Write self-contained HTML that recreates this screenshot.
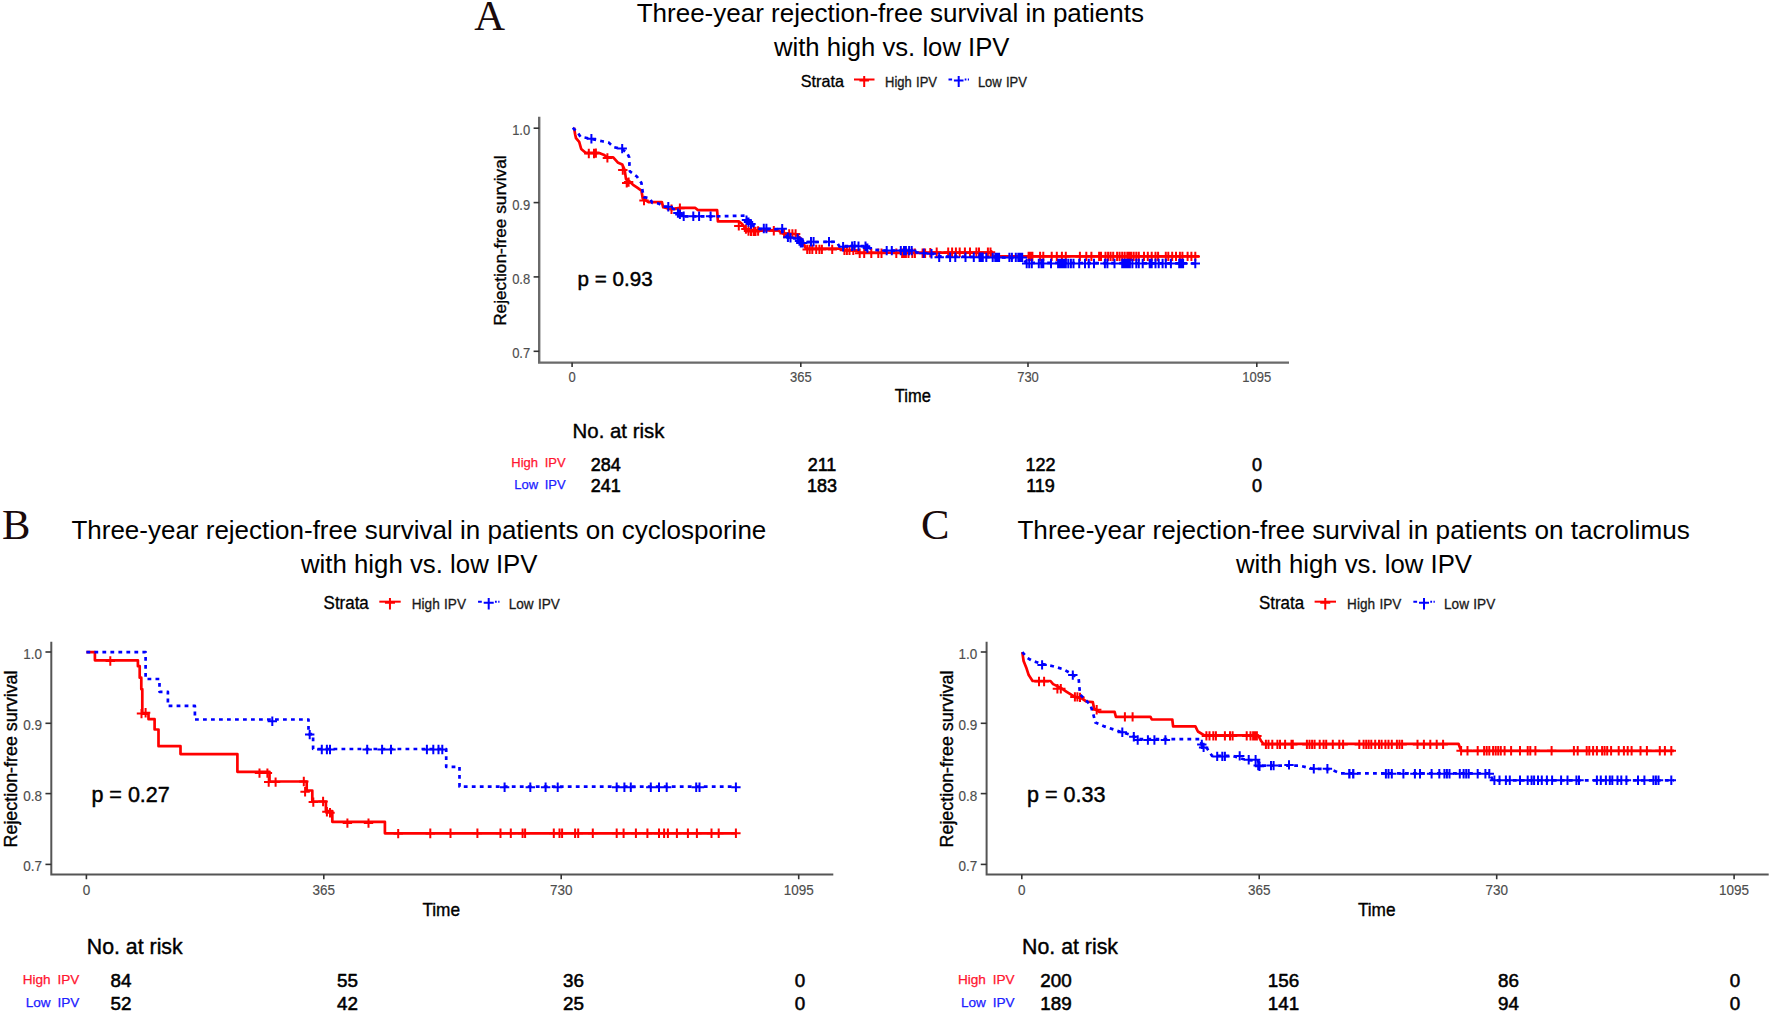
<!DOCTYPE html>
<html lang="en"><head><meta charset="utf-8"><title>Three-year rejection-free survival</title>
<style>html,body{margin:0;padding:0;background:#fff;}body{width:1772px;height:1014px;overflow:hidden;}svg{display:block;}</style>
</head><body>
<svg width="1772" height="1014" viewBox="0 0 1772 1014" role="img" aria-label="Kaplan-Meier rejection-free survival curves, panels A, B and C">
<rect width="1772" height="1014" fill="#ffffff"/>
<g>
<text x="636.7" y="21.8" font-family="'Liberation Sans', Arial, sans-serif" font-size="25.3" fill="#000" textLength="507.3" lengthAdjust="spacingAndGlyphs">Three-year rejection-free survival in patients</text>
<text x="773.9" y="55.8" font-family="'Liberation Sans', Arial, sans-serif" font-size="25.3" fill="#000" textLength="235.6" lengthAdjust="spacingAndGlyphs">with high vs. low IPV</text>
<text x="474.3" y="30" font-family="'Liberation Serif', 'Times New Roman', serif" font-size="42.6" fill="#1a0a0a" text-anchor="start" >A</text>
<text transform="translate(800.7 86.9) scale(1 1.07)" font-family="'Liberation Sans', Arial, sans-serif" font-size="16.2" fill="#000" text-anchor="start" stroke="#000" stroke-width="0.3" stroke-linejoin="round" >Strata</text>
<path d="M854 79.5H874.5" stroke="#ff0000" stroke-width="2"/>
<path d="M864.2 75.9V86.9M859.4 80.5H869" stroke="#ff0000" stroke-width="2" fill="none"/>
<text transform="translate(885.1 86.5) scale(1 1.07)" font-family="'Liberation Sans', Arial, sans-serif" font-size="13" fill="#1a1a1a" text-anchor="start" stroke="#1a1a1a" stroke-width="0.3" stroke-linejoin="round" word-spacing="0.6">High IPV</text>
<path d="M948.5 79.5H952.1M964.7 79.5H966.4M967.8 79.5H969" stroke="#0000ff" stroke-width="2"/>
<path d="M958.7 75.9V86.9M953.9 80.5H963.5" stroke="#0000ff" stroke-width="2" fill="none"/>
<text transform="translate(977.9 86.5) scale(1 1.07)" font-family="'Liberation Sans', Arial, sans-serif" font-size="13" fill="#1a1a1a" text-anchor="start" stroke="#1a1a1a" stroke-width="0.3" stroke-linejoin="round" word-spacing="0.6">Low IPV</text>
<path d="M539.2 116.7V362.6H1289" stroke="#6a6a6a" stroke-width="2.4" fill="none"/>
<path d="M533.6 128.2H539.2" stroke="#333" stroke-width="1.6"/>
<text transform="translate(530.2 135.1) scale(1 1.14)" font-family="'Liberation Sans', Arial, sans-serif" font-size="13" fill="#4d4d4d" text-anchor="end" stroke="#4d4d4d" stroke-width="0.15" stroke-linejoin="round" >1.0</text>
<path d="M533.6 202.6H539.2" stroke="#333" stroke-width="1.6"/>
<text transform="translate(530.2 209.5) scale(1 1.14)" font-family="'Liberation Sans', Arial, sans-serif" font-size="13" fill="#4d4d4d" text-anchor="end" stroke="#4d4d4d" stroke-width="0.15" stroke-linejoin="round" >0.9</text>
<path d="M533.6 276.9H539.2" stroke="#333" stroke-width="1.6"/>
<text transform="translate(530.2 283.8) scale(1 1.14)" font-family="'Liberation Sans', Arial, sans-serif" font-size="13" fill="#4d4d4d" text-anchor="end" stroke="#4d4d4d" stroke-width="0.15" stroke-linejoin="round" >0.8</text>
<path d="M533.6 351.3H539.2" stroke="#333" stroke-width="1.6"/>
<text transform="translate(530.2 358.2) scale(1 1.14)" font-family="'Liberation Sans', Arial, sans-serif" font-size="13" fill="#4d4d4d" text-anchor="end" stroke="#4d4d4d" stroke-width="0.15" stroke-linejoin="round" >0.7</text>
<path d="M572.1 362.6V367" stroke="#333" stroke-width="1.6"/>
<text transform="translate(572.1 382) scale(1 1.14)" font-family="'Liberation Sans', Arial, sans-serif" font-size="13" fill="#4d4d4d" text-anchor="middle" stroke="#4d4d4d" stroke-width="0.15" stroke-linejoin="round" >0</text>
<path d="M800.8 362.6V367" stroke="#333" stroke-width="1.6"/>
<text transform="translate(800.8 382) scale(1 1.14)" font-family="'Liberation Sans', Arial, sans-serif" font-size="13" fill="#4d4d4d" text-anchor="middle" stroke="#4d4d4d" stroke-width="0.15" stroke-linejoin="round" >365</text>
<path d="M1028 362.6V367" stroke="#333" stroke-width="1.6"/>
<text transform="translate(1028 382) scale(1 1.14)" font-family="'Liberation Sans', Arial, sans-serif" font-size="13" fill="#4d4d4d" text-anchor="middle" stroke="#4d4d4d" stroke-width="0.15" stroke-linejoin="round" >730</text>
<path d="M1256.8 362.6V367" stroke="#333" stroke-width="1.6"/>
<text transform="translate(1256.8 382) scale(1 1.14)" font-family="'Liberation Sans', Arial, sans-serif" font-size="13" fill="#4d4d4d" text-anchor="middle" stroke="#4d4d4d" stroke-width="0.15" stroke-linejoin="round" >1095</text>
<text transform="translate(912.8 401.6) scale(1 1.07)" font-family="'Liberation Sans', Arial, sans-serif" font-size="16.5" fill="#000" text-anchor="middle" stroke="#000" stroke-width="0.35" stroke-linejoin="round" >Time</text>
<text transform="translate(506.2 240.6) rotate(-90)" font-family="'Liberation Sans', Arial, sans-serif" font-size="17" fill="#000" stroke="#000" stroke-width="0.35" text-anchor="middle" textLength="170.5" lengthAdjust="spacingAndGlyphs">Rejection-free survival</text>
<text x="577.6" y="286" font-family="'Liberation Sans', Arial, sans-serif" font-size="20.6" fill="#000" text-anchor="start" stroke="#000" stroke-width="0.45" stroke-linejoin="round" >p = 0.93</text>
<path d="M574.1 127.8 L575.1 134.2 L576 138.1 L579.2 141.9 L581.2 149 L585.6 152.8 L598.5 152.8 L603.6 154.7 L607.4 157.3 L613.2 157.3 L617.7 162.4 L622.2 164.4 L624.7 170.1 L626 179.1 L629.9 181.7 L633.1 184.9 L636.9 187.4 L641.4 190.6 L642.7 198.3 L648.5 202.2 L661.9 202.2 L663.2 207.3 L671.5 209.2 L679.9 207.9 L695.3 207.9 L697.8 210.1 L717.1 210.1 L717.9 221.4 L738.8 221.4 L742.1 224 L745.9 229.1 L749.7 230.4 L770.3 230.4 L777.7 230.1 L782.8 233.3 L795.6 234 L802.1 239.7 L805.9 248.7 L839.2 248.7 L844.4 250.3 L857.2 250.6 L859.7 252.6 L992.1 252.6 L991.4 251.3 L992.7 256.4 L1199.1 256.4" stroke="#ff0000" stroke-width="2.7" fill="none" stroke-linejoin="round"/>
<path d="M584.1 153.5H593.5M588.8 148.8V158.2M589.3 153.5H598.7M594 148.8V158.2M591.2 153.1H600.6M595.9 148.4V157.8M602.7 157.9H612.1M607.4 153.2V162.6M618.1 170.1H627.5M622.8 165.4V174.8M622 182.9H631.4M626.7 178.2V187.6M623.9 182.1H633.3M628.6 177.4V186.8M639.3 200.6H648.7M644 195.9V205.3M666.8 209.2H676.2M671.5 204.5V213.9M675.2 208.3H684.6M679.9 203.6V213M734.1 225.9H743.5M738.8 221.2V230.6M741.2 229.1H750.6M745.9 224.4V233.8M743.8 231H753.2M748.5 226.3V235.7M746.3 231.4H755.7M751 226.7V236.1M748.9 231.4H758.3M753.6 226.7V236.1M750.8 231.4H760.2M755.5 226.7V236.1M753.4 231H762.8M758.1 226.3V235.7M769.1 230.8H778.5M773.8 226.1V235.5M779.4 233.6H788.8M784.1 228.9V238.3M784.5 234H793.9M789.2 229.3V238.7M787.7 234H797.1M792.4 229.3V238.7M790.9 234H800.3M795.6 229.3V238.7M802.5 249.4H811.9M807.2 244.7V254.1M805 249.4H814.4M809.7 244.7V254.1M807.6 249.4H817M812.3 244.7V254.1M811.5 249.4H820.9M816.2 244.7V254.1M814.7 249.4H824.1M819.4 244.7V254.1M817.2 249.4H826.6M821.9 244.7V254.1M827.5 249.4H836.9M832.2 244.7V254.1M839.7 250.3H849.1M844.4 245.6V255M842.2 250.3H851.6M846.9 245.6V255M844.8 250.3H854.2M849.5 245.6V255M848.6 250.3H858M853.3 245.6V255M855 253.2H864.4M859.7 248.5V257.9M859.5 253.2H868.9M864.2 248.5V257.9M866.6 253.2H876M871.3 248.5V257.9M873.6 253.2H883M878.3 248.5V257.9M876.8 253.2H886.2M881.5 248.5V257.9M891.6 253.2H901M896.3 248.5V257.9M897.4 253.2H906.8M902.1 248.5V257.9M899.3 253.2H908.7M904 248.5V257.9M901.2 253.2H910.6M905.9 248.5V257.9M903.8 253.2H913.2M908.5 248.5V257.9M907.6 253.2H917M912.3 248.5V257.9M910.2 253.2H919.6M914.9 248.5V257.9M917.9 253.2H927.3M922.6 248.5V257.9M920.4 253.2H929.8M925.1 248.5V257.9M925.6 252.8H935M930.3 248.1V257.5M932 252.3H941.4M936.7 247.6V257M943.5 252.3H952.9M948.2 247.6V257M947.4 252.3H956.8M952.1 247.6V257M951.2 252.3H960.6M955.9 247.6V257M955 252.3H964.4M959.7 247.6V257M960.2 252.3H969.6M964.9 247.6V257M965.3 252.3H974.7M970 247.6V257M971.7 252.3H981.1M976.4 247.6V257M974.3 252.3H983.7M979 247.6V257M983.2 252.3H992.6M987.9 247.6V257M985.8 252.3H995.2M990.5 247.6V257M1023.9 256.4H1033.3M1028.6 251.7V261.1M1025.8 256.4H1035.2M1030.5 251.7V261.1M1027.7 256.4H1037.1M1032.4 251.7V261.1M1035.4 256.4H1044.8M1040.1 251.7V261.1M1038.6 256.4H1048M1043.3 251.7V261.1M1047 256.4H1056.4M1051.7 251.7V261.1M1052.1 256.4H1061.5M1056.8 251.7V261.1M1057.2 256.4H1066.6M1061.9 251.7V261.1M1061.1 256.4H1070.5M1065.8 251.7V261.1M1075.2 256.4H1084.6M1079.9 251.7V261.1M1081.6 256.4H1091M1086.3 251.7V261.1M1086.7 256.4H1096.1M1091.4 251.7V261.1M1094.4 256.4H1103.8M1099.1 251.7V261.1M1096.3 256.4H1105.7M1101 251.7V261.1M1100.8 256.4H1110.2M1105.5 251.7V261.1M1103.4 256.4H1112.8M1108.1 251.7V261.1M1105.9 256.4H1115.3M1110.6 251.7V261.1M1108.5 256.4H1117.9M1113.2 251.7V261.1M1112.4 256.4H1121.8M1117.1 251.7V261.1M1114.9 256.4H1124.3M1119.6 251.7V261.1M1117.5 256.4H1126.9M1122.2 251.7V261.1M1120 256.4H1129.4M1124.7 251.7V261.1M1122.6 256.4H1132M1127.3 251.7V261.1M1124.5 256.4H1133.9M1129.2 251.7V261.1M1126.5 256.4H1135.9M1131.2 251.7V261.1M1129 256.4H1138.4M1133.7 251.7V261.1M1131.6 256.4H1141M1136.3 251.7V261.1M1134.1 256.4H1143.5M1138.8 251.7V261.1M1139.3 256.4H1148.7M1144 251.7V261.1M1143.1 256.4H1152.5M1147.8 251.7V261.1M1147 256.4H1156.4M1151.7 251.7V261.1M1150.8 256.4H1160.2M1155.5 251.7V261.1M1153.4 256.4H1162.8M1158.1 251.7V261.1M1161.1 256.4H1170.5M1165.8 251.7V261.1M1163.6 256.4H1173M1168.3 251.7V261.1M1167.5 256.4H1176.9M1172.2 251.7V261.1M1171.3 256.4H1180.7M1176 251.7V261.1M1175.2 256.4H1184.6M1179.9 251.7V261.1M1177.7 256.4H1187.1M1182.4 251.7V261.1M1182.9 256.4H1192.3M1187.6 251.7V261.1M1186.7 256.4H1196.1M1191.4 251.7V261.1M1190.6 256.4H1200M1195.3 251.7V261.1" stroke="#ff0000" stroke-width="2" fill="none"/>
<path d="M572.8 127.8 L577.9 132.9 L580.5 136.8 L590.8 138.7 L602.3 141.3 L608.7 142.6 L613.8 147.1 L621.5 149 L626.7 152.2 L629.2 157.3 L629.5 166.3 L629.9 171.4 L636.9 176.5 L641.4 182.9 L642.7 191.9 L644 197.1 L649.7 198.3 L652.3 202.8 L658.7 203.5 L662.6 206.7 L669 206.7 L675.4 209.9 L679.2 213.7 L683.1 216.3 L717.7 216.3 L745.9 215.6 L747.2 220.1 L751 224 L754.9 227.2 L760 229.1 L770.3 229.1 L782.1 229.1 L782.8 234.6 L789.2 237.2 L795.6 238.5 L799.5 242.3 L836.7 241.7 L839.2 246.2 L867.4 246.2 L871.3 249.4 L882.8 250.6 L911 250.6 L917.4 252.6 L934.1 253.8 L936.7 256.4 L992.1 257.1 L1023.5 258.3 L1026 262.8 L1199.1 263.5" stroke="#0000ff" stroke-width="2.7" fill="none" stroke-dasharray="3.8 4.2" stroke-linejoin="round"/>
<path d="M586.7 138.7H596.1M591.4 134V143.4M617.5 148.6H626.9M622.2 143.9V153.3M663.6 206.7H673M668.3 202V211.4M673.2 213.1H682.6M677.9 208.4V217.8M675.2 214.4H684.6M679.9 209.7V219.1M679 216.3H688.4M683.7 211.6V221M688.6 216.3H698M693.3 211.6V221M694.4 216.3H703.8M699.1 211.6V221M705.9 216.3H715.3M710.6 211.6V221M741.8 220.1H751.2M746.5 215.4V224.8M743.8 222.1H753.2M748.5 217.4V226.8M746.3 224H755.7M751 219.3V228.7M759.1 228.5H768.5M763.8 223.8V233.2M761.7 228.5H771.1M766.4 223.8V233.2M777.5 228.8H786.9M782.2 224.1V233.5M783.2 237.2H792.6M787.9 232.5V241.9M785.8 237.8H795.2M790.5 233.1V242.5M792.9 238.5H802.3M797.6 233.8V243.2M794.8 241H804.2M799.5 236.3V245.7M796.1 242.9H805.5M800.8 238.2V247.6M798 242.9H807.4M802.7 238.2V247.6M806.3 241.7H815.7M811 237V246.4M808.9 241.7H818.3M813.6 237V246.4M824.3 241.7H833.7M829 237V246.4M838.4 246.8H847.8M843.1 242.1V251.5M847.4 246.2H856.8M852.1 241.5V250.9M849.9 245.8H859.3M854.6 241.1V250.5M853.8 246.2H863.2M858.5 241.5V250.9M860.8 246.2H870.2M865.5 241.5V250.9M862.7 248.1H872.1M867.4 243.4V252.8M882 250.6H891.4M886.7 245.9V255.3M887.1 250.6H896.5M891.8 245.9V255.3M896.1 250.6H905.5M900.8 245.9V255.3M899.3 250.6H908.7M904 245.9V255.3M901.2 250.6H910.6M905.9 245.9V255.3M904.4 250.6H913.8M909.1 245.9V255.3M907 250.6H916.4M911.7 245.9V255.3M919.1 253.2H928.5M923.8 248.5V257.9M926.8 253.8H936.2M931.5 249.1V258.5M934.5 257.3H943.9M939.2 252.6V262M945.4 257.3H954.8M950.1 252.6V262M950.6 257.3H960M955.3 252.6V262M960.8 257.3H970.2M965.5 252.6V262M969.1 257.3H978.5M973.8 252.6V262M974.9 257.3H984.3M979.6 252.6V262M976.8 257.3H986.2M981.5 252.6V262M978.1 257.3H987.5M982.8 252.6V262M981.6 257.4H991M986.3 252.7V262.1M988 257.4H997.4M992.7 252.7V262.1M990.6 257.4H1000M995.3 252.7V262.1M992.5 257.4H1001.9M997.2 252.7V262.1M994.4 257.4H1003.8M999.1 252.7V262.1M1004.7 257.4H1014.1M1009.4 252.7V262.1M1007.2 257.4H1016.6M1011.9 252.7V262.1M1011.1 257.4H1020.5M1015.8 252.7V262.1M1013.6 257.4H1023M1018.3 252.7V262.1M1015.6 257.4H1025M1020.3 252.7V262.1M1017.5 257.4H1026.9M1022.2 252.7V262.1M1022 263.5H1031.4M1026.7 258.8V268.2M1024.5 263.5H1033.9M1029.2 258.8V268.2M1027.1 263.5H1036.5M1031.8 258.8V268.2M1034.1 263.5H1043.5M1038.8 258.8V268.2M1036.7 263.5H1046.1M1041.4 258.8V268.2M1038.6 263.5H1048M1043.3 258.8V268.2M1046.3 263.5H1055.7M1051 258.8V268.2M1053.4 263.5H1062.8M1058.1 258.8V268.2M1055.3 263.5H1064.7M1060 258.8V268.2M1057.2 263.5H1066.6M1061.9 258.8V268.2M1059.1 263.5H1068.5M1063.8 258.8V268.2M1061.1 263.5H1070.5M1065.8 258.8V268.2M1063.6 263.5H1073M1068.3 258.8V268.2M1066.2 263.5H1075.6M1070.9 258.8V268.2M1068.8 263.5H1078.2M1073.5 258.8V268.2M1074.5 263.5H1083.9M1079.2 258.8V268.2M1080.3 263.5H1089.7M1085 258.8V268.2M1084.1 263.5H1093.5M1088.8 258.8V268.2M1089.3 263.5H1098.7M1094 258.8V268.2M1100.2 263.5H1109.6M1104.9 258.8V268.2M1102.7 263.5H1112.1M1107.4 258.8V268.2M1109.8 263.5H1119.2M1114.5 258.8V268.2M1117.5 263.5H1126.9M1122.2 258.8V268.2M1119.4 263.5H1128.8M1124.1 258.8V268.2M1121.3 263.5H1130.7M1126 258.8V268.2M1123.2 263.5H1132.6M1127.9 258.8V268.2M1125.2 263.5H1134.6M1129.9 258.8V268.2M1127.7 263.5H1137.1M1132.4 258.8V268.2M1131.6 263.5H1141M1136.3 258.8V268.2M1134.1 263.5H1143.5M1138.8 258.8V268.2M1138 263.5H1147.4M1142.7 258.8V268.2M1145 263.5H1154.4M1149.7 258.8V268.2M1147 263.5H1156.4M1151.7 258.8V268.2M1150.8 263.5H1160.2M1155.5 258.8V268.2M1154 263.5H1163.4M1158.7 258.8V268.2M1157.9 263.5H1167.3M1162.6 258.8V268.2M1161.1 263.5H1170.5M1165.8 258.8V268.2M1166.2 263.5H1175.6M1170.9 258.8V268.2M1174.5 263.5H1183.9M1179.2 258.8V268.2M1176.5 263.5H1185.9M1181.2 258.8V268.2M1178.4 263.5H1187.8M1183.1 258.8V268.2M1190.6 263.5H1200M1195.3 258.8V268.2" stroke="#0000ff" stroke-width="2" fill="none"/>
<text x="572.6" y="438" font-family="'Liberation Sans', Arial, sans-serif" font-size="20.4" fill="#000" text-anchor="start" stroke="#000" stroke-width="0.4" stroke-linejoin="round" >No. at risk</text>
<text x="565.6" y="467.1" font-family="'Liberation Sans', Arial, sans-serif" font-size="13" fill="#ff1530" text-anchor="end" stroke="#ff1530" stroke-width="0.25" stroke-linejoin="round" word-spacing="3">High IPV</text>
<text x="565.6" y="489.2" font-family="'Liberation Sans', Arial, sans-serif" font-size="13" fill="#2020ff" text-anchor="end" stroke="#2020ff" stroke-width="0.25" stroke-linejoin="round" word-spacing="3">Low IPV</text>
<text x="605.8" y="470.6" font-family="'Liberation Sans', Arial, sans-serif" font-size="18" fill="#000" text-anchor="middle" stroke="#000" stroke-width="0.55" stroke-linejoin="round" >284</text>
<text x="822" y="470.6" font-family="'Liberation Sans', Arial, sans-serif" font-size="18" fill="#000" text-anchor="middle" stroke="#000" stroke-width="0.55" stroke-linejoin="round" >211</text>
<text x="1040.5" y="470.6" font-family="'Liberation Sans', Arial, sans-serif" font-size="18" fill="#000" text-anchor="middle" stroke="#000" stroke-width="0.55" stroke-linejoin="round" >122</text>
<text x="1257" y="470.6" font-family="'Liberation Sans', Arial, sans-serif" font-size="18" fill="#000" text-anchor="middle" stroke="#000" stroke-width="0.55" stroke-linejoin="round" >0</text>
<text x="605.8" y="492" font-family="'Liberation Sans', Arial, sans-serif" font-size="18" fill="#000" text-anchor="middle" stroke="#000" stroke-width="0.55" stroke-linejoin="round" >241</text>
<text x="822" y="492" font-family="'Liberation Sans', Arial, sans-serif" font-size="18" fill="#000" text-anchor="middle" stroke="#000" stroke-width="0.55" stroke-linejoin="round" >183</text>
<text x="1040.5" y="492" font-family="'Liberation Sans', Arial, sans-serif" font-size="18" fill="#000" text-anchor="middle" stroke="#000" stroke-width="0.55" stroke-linejoin="round" >119</text>
<text x="1257" y="492" font-family="'Liberation Sans', Arial, sans-serif" font-size="18" fill="#000" text-anchor="middle" stroke="#000" stroke-width="0.55" stroke-linejoin="round" >0</text>
</g>
<g>
<text x="71.4" y="539" font-family="'Liberation Sans', Arial, sans-serif" font-size="25.3" fill="#000" textLength="694.9" lengthAdjust="spacingAndGlyphs">Three-year rejection-free survival in patients on cyclosporine</text>
<text x="301" y="572.5" font-family="'Liberation Sans', Arial, sans-serif" font-size="25.3" fill="#000" textLength="236.5" lengthAdjust="spacingAndGlyphs">with high vs. low IPV</text>
<text x="2" y="539" font-family="'Liberation Serif', 'Times New Roman', serif" font-size="42.6" fill="#1a0a0a" text-anchor="start" >B</text>
<text transform="translate(323.6 609.4) scale(1 1.04)" font-family="'Liberation Sans', Arial, sans-serif" font-size="16.929" fill="#000" text-anchor="start" stroke="#000" stroke-width="0.3" stroke-linejoin="round" >Strata</text>
<path d="M379.298 601.667H400.721" stroke="#ff0000" stroke-width="2"/>
<path d="M389.957 597.905V609.4M384.941 602.667H394.974" stroke="#ff0000" stroke-width="2" fill="none"/>
<text transform="translate(411.798 609) scale(1 1.04)" font-family="'Liberation Sans', Arial, sans-serif" font-size="13.585" fill="#1a1a1a" text-anchor="start" stroke="#1a1a1a" stroke-width="0.3" stroke-linejoin="round" word-spacing="0.6">High IPV</text>
<path d="M478.051 601.667H481.813M494.98 601.667H496.757M498.22 601.667H499.474" stroke="#0000ff" stroke-width="2"/>
<path d="M488.71 597.905V609.4M483.694 602.667H493.726" stroke="#0000ff" stroke-width="2" fill="none"/>
<text transform="translate(508.774 609) scale(1 1.04)" font-family="'Liberation Sans', Arial, sans-serif" font-size="13.585" fill="#1a1a1a" text-anchor="start" stroke="#1a1a1a" stroke-width="0.3" stroke-linejoin="round" word-spacing="0.6">Low IPV</text>
<path d="M51.3 641.8V874.6H833.3" stroke="#555555" stroke-width="2" fill="none"/>
<path d="M45.448 652H51.3" stroke="#333" stroke-width="1.6"/>
<text transform="translate(41.895 658.9) scale(1 1.14)" font-family="'Liberation Sans', Arial, sans-serif" font-size="13.5" fill="#4d4d4d" text-anchor="end" stroke="#4d4d4d" stroke-width="0.15" stroke-linejoin="round" >1.0</text>
<path d="M45.448 723.3H51.3" stroke="#333" stroke-width="1.6"/>
<text transform="translate(41.895 730.2) scale(1 1.14)" font-family="'Liberation Sans', Arial, sans-serif" font-size="13.5" fill="#4d4d4d" text-anchor="end" stroke="#4d4d4d" stroke-width="0.15" stroke-linejoin="round" >0.9</text>
<path d="M45.448 793.6H51.3" stroke="#333" stroke-width="1.6"/>
<text transform="translate(41.895 800.5) scale(1 1.14)" font-family="'Liberation Sans', Arial, sans-serif" font-size="13.5" fill="#4d4d4d" text-anchor="end" stroke="#4d4d4d" stroke-width="0.15" stroke-linejoin="round" >0.8</text>
<path d="M45.448 864.4H51.3" stroke="#333" stroke-width="1.6"/>
<text transform="translate(41.895 871.3) scale(1 1.14)" font-family="'Liberation Sans', Arial, sans-serif" font-size="13.5" fill="#4d4d4d" text-anchor="end" stroke="#4d4d4d" stroke-width="0.15" stroke-linejoin="round" >0.7</text>
<path d="M86.4 874.6V879.252" stroke="#333" stroke-width="1.6"/>
<text transform="translate(86.4 894.6) scale(1 1.14)" font-family="'Liberation Sans', Arial, sans-serif" font-size="13.5" fill="#4d4d4d" text-anchor="middle" stroke="#4d4d4d" stroke-width="0.15" stroke-linejoin="round" >0</text>
<path d="M323.8 874.6V879.252" stroke="#333" stroke-width="1.6"/>
<text transform="translate(323.8 894.6) scale(1 1.14)" font-family="'Liberation Sans', Arial, sans-serif" font-size="13.5" fill="#4d4d4d" text-anchor="middle" stroke="#4d4d4d" stroke-width="0.15" stroke-linejoin="round" >365</text>
<path d="M561.2 874.6V879.252" stroke="#333" stroke-width="1.6"/>
<text transform="translate(561.2 894.6) scale(1 1.14)" font-family="'Liberation Sans', Arial, sans-serif" font-size="13.5" fill="#4d4d4d" text-anchor="middle" stroke="#4d4d4d" stroke-width="0.15" stroke-linejoin="round" >730</text>
<path d="M798.7 874.6V879.252" stroke="#333" stroke-width="1.6"/>
<text transform="translate(798.7 894.6) scale(1 1.14)" font-family="'Liberation Sans', Arial, sans-serif" font-size="13.5" fill="#4d4d4d" text-anchor="middle" stroke="#4d4d4d" stroke-width="0.15" stroke-linejoin="round" >1095</text>
<text transform="translate(441.2 916) scale(1 1.04)" font-family="'Liberation Sans', Arial, sans-serif" font-size="17.2425" fill="#000" text-anchor="middle" stroke="#000" stroke-width="0.35" stroke-linejoin="round" >Time</text>
<text transform="translate(16.7 759) rotate(-90)" font-family="'Liberation Sans', Arial, sans-serif" font-size="17.5" fill="#000" stroke="#000" stroke-width="0.35" text-anchor="middle" textLength="177" lengthAdjust="spacingAndGlyphs">Rejection-free survival</text>
<text x="91.4" y="802" font-family="'Liberation Sans', Arial, sans-serif" font-size="21.527" fill="#000" text-anchor="start" stroke="#000" stroke-width="0.45" stroke-linejoin="round" >p = 0.27</text>
<path d="M86.4 652.1 L94.9 652.1 L94.9 660.3 L137.9 660.3 L137.9 666.2 L139.7 666.2 L139.7 677.7 L141.3 677.7 L141.3 689.2 L142.3 689.2 L142.3 713.6 L148.5 713.6 L148.5 719.2 L154.6 719.2 L154.6 729.5 L158.5 729.5 L158.5 746.2 L180.5 746.2 L180.5 754.1 L237.4 754.1 L237.4 771.8 L269.5 771.8 L269.5 781.5 L306.7 781.5 L306.7 790.5 L312.3 790.5 L312.3 801.5 L325.9 801.5 L325.9 811 L332.3 811 L332.3 821.8 L384.9 821.8 L384.9 833.3 L443.1 833.3 L735.9 833.3" stroke="#ff0000" stroke-width="2.7" fill="none" stroke-linejoin="round"/>
<path d="M105.6 661H115M110.3 656.3V665.7M136.8 713.6H146.2M141.5 708.9V718.3M140.9 712.8H150.3M145.6 708.1V717.5M254.8 773.1H264.2M259.5 768.4V777.8M262.7 773.1H272.1M267.4 768.4V777.8M264 782.1H273.4M268.7 777.4V786.8M270.9 782.1H280.3M275.6 777.4V786.8M299.1 781.5H308.5M303.8 776.8V786.2M300.4 791.8H309.8M305.1 787.1V796.5M308.6 802.1H318M313.3 797.4V806.8M318.4 801.5H327.8M323.1 796.8V806.2M322.2 811.8H331.6M326.9 807.1V816.5M325.3 812.8H334.7M330 808.1V817.5M342.7 823.1H352.1M347.4 818.4V827.8M363.8 823.1H373.2M368.5 818.4V827.8M393.5 833.6H402.9M398.2 828.9V838.3M425.6 833.6H435M430.3 828.9V838.3M425.6 833.3H435M430.3 828.6V838M445.8 833.3H455.2M450.5 828.6V838M472.7 833.3H482.1M477.4 828.6V838M495.8 833.3H505.2M500.5 828.6V838M506.1 833.3H515.5M510.8 828.6V838M517.9 833.3H527.3M522.6 828.6V838M520.4 833.3H529.8M525.1 828.6V838M549.1 833.3H558.5M553.8 828.6V838M554.8 833.3H564.2M559.5 828.6V838M557.4 833.3H566.8M562.1 828.6V838M570.4 833.3H579.8M575.1 828.6V838M573.5 833.3H582.9M578.2 828.6V838M588.1 833.3H597.5M592.8 828.6V838M612 833.3H621.4M616.7 828.6V838M618.9 833.3H628.3M623.6 828.6V838M631.2 833.3H640.6M635.9 828.6V838M642.7 833.3H652.1M647.4 828.6V838M654.3 833.3H663.7M659 828.6V838M659.4 833.3H668.8M664.1 828.6V838M663.2 833.3H672.6M667.9 828.6V838M672.2 833.3H681.6M676.9 828.6V838M683.2 833.3H692.6M687.9 828.6V838M692.2 833.3H701.6M696.9 828.6V838M706.8 833.3H716.2M711.5 828.6V838M714 833.3H723.4M718.7 828.6V838M731.2 833.3H740.6M735.9 828.6V838" stroke="#ff0000" stroke-width="2" fill="none"/>
<path d="M86.4 652.1 L145.6 652.1 L145.6 679 L159.5 679 L159.5 691.8 L167.9 691.8 L167.9 705.9 L194.9 705.9 L194.9 719.5 L308.5 719.5 L308.5 734.1 L313.1 734.1 L313.1 749 L443.1 749 L446.2 749 L446.2 766.9 L459.5 766.9 L459.5 786.7 L735.9 786.7" stroke="#0000ff" stroke-width="2.7" fill="none" stroke-dasharray="3.8 4.2" stroke-linejoin="round"/>
<path d="M267.6 721.3H277M272.3 716.6V726M305 734.6H314.4M309.7 729.9V739.3M317.1 749.5H326.5M321.8 744.8V754.2M322.2 749.5H331.6M326.9 744.8V754.2M325.3 749.5H334.7M330 744.8V754.2M362.5 749.5H371.9M367.2 744.8V754.2M377.4 749.5H386.8M382.1 744.8V754.2M386.3 749.5H395.7M391 744.8V754.2M422.2 749.5H431.6M426.9 744.8V754.2M428.6 749.5H438M433.3 744.8V754.2M433.8 749.5H443.2M438.5 744.8V754.2M437.6 749.5H447M442.3 744.8V754.2M499.9 787.2H509.3M504.6 782.5V791.9M525.6 787.2H535M530.3 782.5V791.9M540.9 787.2H550.3M545.6 782.5V791.9M553 787.2H562.4M557.7 782.5V791.9M612 787.2H621.4M616.7 782.5V791.9M619.7 787.2H629.1M624.4 782.5V791.9M626.1 787.2H635.5M630.8 782.5V791.9M646.1 787.2H655.5M650.8 782.5V791.9M654.3 787.2H663.7M659 782.5V791.9M662 787.2H671.4M666.7 782.5V791.9M691.5 787.2H700.9M696.2 782.5V791.9M694.8 787.2H704.2M699.5 782.5V791.9M731.2 787.2H740.6M735.9 782.5V791.9" stroke="#0000ff" stroke-width="2" fill="none"/>
<text x="86.8" y="953.9" font-family="'Liberation Sans', Arial, sans-serif" font-size="21.318" fill="#000" text-anchor="start" stroke="#000" stroke-width="0.4" stroke-linejoin="round" >No. at risk</text>
<text x="79.3" y="984.4" font-family="'Liberation Sans', Arial, sans-serif" font-size="13.585" fill="#ff1530" text-anchor="end" stroke="#ff1530" stroke-width="0.25" stroke-linejoin="round" word-spacing="3">High IPV</text>
<text x="79.3" y="1006.7" font-family="'Liberation Sans', Arial, sans-serif" font-size="13.585" fill="#2020ff" text-anchor="end" stroke="#2020ff" stroke-width="0.25" stroke-linejoin="round" word-spacing="3">Low IPV</text>
<text x="121" y="987.1" font-family="'Liberation Sans', Arial, sans-serif" font-size="18.81" fill="#000" text-anchor="middle" stroke="#000" stroke-width="0.55" stroke-linejoin="round" >84</text>
<text x="347.5" y="987.1" font-family="'Liberation Sans', Arial, sans-serif" font-size="18.81" fill="#000" text-anchor="middle" stroke="#000" stroke-width="0.55" stroke-linejoin="round" >55</text>
<text x="573.5" y="987.1" font-family="'Liberation Sans', Arial, sans-serif" font-size="18.81" fill="#000" text-anchor="middle" stroke="#000" stroke-width="0.55" stroke-linejoin="round" >36</text>
<text x="800" y="987.1" font-family="'Liberation Sans', Arial, sans-serif" font-size="18.81" fill="#000" text-anchor="middle" stroke="#000" stroke-width="0.55" stroke-linejoin="round" >0</text>
<text x="121" y="1009.7" font-family="'Liberation Sans', Arial, sans-serif" font-size="18.81" fill="#000" text-anchor="middle" stroke="#000" stroke-width="0.55" stroke-linejoin="round" >52</text>
<text x="347.5" y="1009.7" font-family="'Liberation Sans', Arial, sans-serif" font-size="18.81" fill="#000" text-anchor="middle" stroke="#000" stroke-width="0.55" stroke-linejoin="round" >42</text>
<text x="573.5" y="1009.7" font-family="'Liberation Sans', Arial, sans-serif" font-size="18.81" fill="#000" text-anchor="middle" stroke="#000" stroke-width="0.55" stroke-linejoin="round" >25</text>
<text x="800" y="1009.7" font-family="'Liberation Sans', Arial, sans-serif" font-size="18.81" fill="#000" text-anchor="middle" stroke="#000" stroke-width="0.55" stroke-linejoin="round" >0</text>
</g>
<g>
<text x="1017.4" y="539" font-family="'Liberation Sans', Arial, sans-serif" font-size="25.3" fill="#000" textLength="672.4" lengthAdjust="spacingAndGlyphs">Three-year rejection-free survival in patients on tacrolimus</text>
<text x="1236" y="572.5" font-family="'Liberation Sans', Arial, sans-serif" font-size="25.3" fill="#000" textLength="236" lengthAdjust="spacingAndGlyphs">with high vs. low IPV</text>
<text x="921" y="539" font-family="'Liberation Serif', 'Times New Roman', serif" font-size="42.6" fill="#1a0a0a" text-anchor="start" >C</text>
<text transform="translate(1258.9 609.4) scale(1 1.04)" font-family="'Liberation Sans', Arial, sans-serif" font-size="16.929" fill="#000" text-anchor="start" stroke="#000" stroke-width="0.3" stroke-linejoin="round" >Strata</text>
<path d="M1314.6 601.667H1336.02" stroke="#ff0000" stroke-width="2"/>
<path d="M1325.26 597.905V609.4M1320.24 602.667H1330.27" stroke="#ff0000" stroke-width="2" fill="none"/>
<text transform="translate(1347.1 609) scale(1 1.04)" font-family="'Liberation Sans', Arial, sans-serif" font-size="13.585" fill="#1a1a1a" text-anchor="start" stroke="#1a1a1a" stroke-width="0.3" stroke-linejoin="round" word-spacing="0.6">High IPV</text>
<path d="M1413.35 601.667H1417.11M1430.28 601.667H1432.06M1433.52 601.667H1434.77" stroke="#0000ff" stroke-width="2"/>
<path d="M1424.01 597.905V609.4M1418.99 602.667H1429.03" stroke="#0000ff" stroke-width="2" fill="none"/>
<text transform="translate(1444.07 609) scale(1 1.04)" font-family="'Liberation Sans', Arial, sans-serif" font-size="13.585" fill="#1a1a1a" text-anchor="start" stroke="#1a1a1a" stroke-width="0.3" stroke-linejoin="round" word-spacing="0.6">Low IPV</text>
<path d="M986.6 641.8V874.6H1768.7" stroke="#555555" stroke-width="2" fill="none"/>
<path d="M980.748 652H986.6" stroke="#333" stroke-width="1.6"/>
<text transform="translate(977.195 658.9) scale(1 1.14)" font-family="'Liberation Sans', Arial, sans-serif" font-size="13.5" fill="#4d4d4d" text-anchor="end" stroke="#4d4d4d" stroke-width="0.15" stroke-linejoin="round" >1.0</text>
<path d="M980.748 723.3H986.6" stroke="#333" stroke-width="1.6"/>
<text transform="translate(977.195 730.2) scale(1 1.14)" font-family="'Liberation Sans', Arial, sans-serif" font-size="13.5" fill="#4d4d4d" text-anchor="end" stroke="#4d4d4d" stroke-width="0.15" stroke-linejoin="round" >0.9</text>
<path d="M980.748 793.6H986.6" stroke="#333" stroke-width="1.6"/>
<text transform="translate(977.195 800.5) scale(1 1.14)" font-family="'Liberation Sans', Arial, sans-serif" font-size="13.5" fill="#4d4d4d" text-anchor="end" stroke="#4d4d4d" stroke-width="0.15" stroke-linejoin="round" >0.8</text>
<path d="M980.748 864.4H986.6" stroke="#333" stroke-width="1.6"/>
<text transform="translate(977.195 871.3) scale(1 1.14)" font-family="'Liberation Sans', Arial, sans-serif" font-size="13.5" fill="#4d4d4d" text-anchor="end" stroke="#4d4d4d" stroke-width="0.15" stroke-linejoin="round" >0.7</text>
<path d="M1021.8 874.6V879.252" stroke="#333" stroke-width="1.6"/>
<text transform="translate(1021.8 894.6) scale(1 1.14)" font-family="'Liberation Sans', Arial, sans-serif" font-size="13.5" fill="#4d4d4d" text-anchor="middle" stroke="#4d4d4d" stroke-width="0.15" stroke-linejoin="round" >0</text>
<path d="M1259.2 874.6V879.252" stroke="#333" stroke-width="1.6"/>
<text transform="translate(1259.2 894.6) scale(1 1.14)" font-family="'Liberation Sans', Arial, sans-serif" font-size="13.5" fill="#4d4d4d" text-anchor="middle" stroke="#4d4d4d" stroke-width="0.15" stroke-linejoin="round" >365</text>
<path d="M1496.7 874.6V879.252" stroke="#333" stroke-width="1.6"/>
<text transform="translate(1496.7 894.6) scale(1 1.14)" font-family="'Liberation Sans', Arial, sans-serif" font-size="13.5" fill="#4d4d4d" text-anchor="middle" stroke="#4d4d4d" stroke-width="0.15" stroke-linejoin="round" >730</text>
<path d="M1734.1 874.6V879.252" stroke="#333" stroke-width="1.6"/>
<text transform="translate(1734.1 894.6) scale(1 1.14)" font-family="'Liberation Sans', Arial, sans-serif" font-size="13.5" fill="#4d4d4d" text-anchor="middle" stroke="#4d4d4d" stroke-width="0.15" stroke-linejoin="round" >1095</text>
<text transform="translate(1376.7 916) scale(1 1.04)" font-family="'Liberation Sans', Arial, sans-serif" font-size="17.2425" fill="#000" text-anchor="middle" stroke="#000" stroke-width="0.35" stroke-linejoin="round" >Time</text>
<text transform="translate(953.1 759) rotate(-90)" font-family="'Liberation Sans', Arial, sans-serif" font-size="17.5" fill="#000" stroke="#000" stroke-width="0.35" text-anchor="middle" textLength="177" lengthAdjust="spacingAndGlyphs">Rejection-free survival</text>
<text x="1027" y="802" font-family="'Liberation Sans', Arial, sans-serif" font-size="21.527" fill="#000" text-anchor="start" stroke="#000" stroke-width="0.45" stroke-linejoin="round" >p = 0.33</text>
<path d="M1022.3 652.1 L1023.6 661 L1026.2 667.4 L1028.7 675.1 L1032.6 681 L1050.5 681 L1053.1 684.1 L1060.8 687.9 L1065.9 691.3 L1073.6 696.2 L1081.3 698.2 L1086.4 701.5 L1092.8 702.1 L1094.1 708.5 L1099.2 711.8 L1114.6 711.8 L1115.9 716.9 L1150.5 716.9 L1151.8 719.5 L1172.3 719.5 L1173.1 726.4 L1195.4 726.4 L1197.9 731.5 L1204.4 735.4 L1258.2 735.4 L1260.8 740.5 L1263.3 743.8 L1329 743.8 L1458.5 743.8 L1461.1 750.8 L1673.9 750.8" stroke="#ff0000" stroke-width="2.7" fill="none" stroke-linejoin="round"/>
<path d="M1034.3 681.5H1043.7M1039 676.8V686.2M1039.4 681.5H1048.8M1044.1 676.8V686.2M1052.7 688.7H1062.1M1057.4 684V693.4M1056.1 688.7H1065.5M1060.8 684V693.4M1070.2 696.9H1079.6M1074.9 692.2V701.6M1072.7 696.9H1082.1M1077.4 692.2V701.6M1075.3 697.4H1084.7M1080 692.7V702.1M1092 709.7H1101.4M1096.7 705V714.4M1120.2 716.9H1129.6M1124.9 712.2V721.6M1127.9 716.9H1137.3M1132.6 712.2V721.6M1201.7 735.9H1211.1M1206.4 731.2V740.6M1204.8 735.9H1214.2M1209.5 731.2V740.6M1208.6 735.9H1218M1213.3 731.2V740.6M1211.2 735.9H1220.6M1215.9 731.2V740.6M1220.2 735.9H1229.6M1224.9 731.2V740.6M1225.3 735.9H1234.7M1230 731.2V740.6M1227.9 735.9H1237.3M1232.6 731.2V740.6M1242 735.9H1251.4M1246.7 731.2V740.6M1245.8 735.9H1255.2M1250.5 731.2V740.6M1248.4 735.9H1257.8M1253.1 731.2V740.6M1249.7 735.9H1259.1M1254.4 731.2V740.6M1250.9 735.9H1260.3M1255.6 731.2V740.6M1252.2 735.9H1261.6M1256.9 731.2V740.6M1261.2 744.4H1270.6M1265.9 739.7V749.1M1263.8 744.4H1273.2M1268.5 739.7V749.1M1267.6 744.4H1277M1272.3 739.7V749.1M1272.7 744.4H1282.1M1277.4 739.7V749.1M1275.3 744.4H1284.7M1280 739.7V749.1M1280.4 744.4H1289.8M1285.1 739.7V749.1M1286.8 744.4H1296.2M1291.5 739.7V749.1M1288.1 744.4H1297.5M1292.8 739.7V749.1M1302.2 744.4H1311.6M1306.9 739.7V749.1M1304.8 744.4H1314.2M1309.5 739.7V749.1M1307.4 744.4H1316.8M1312.1 739.7V749.1M1309.9 744.4H1319.3M1314.6 739.7V749.1M1315 744.4H1324.4M1319.7 739.7V749.1M1318.9 744.4H1328.3M1323.6 739.7V749.1M1321.5 744.4H1330.9M1326.2 739.7V749.1M1328.1 744.4H1337.5M1332.8 739.7V749.1M1334.6 744.4H1344M1339.3 739.7V749.1M1338.4 744.4H1347.8M1343.1 739.7V749.1M1354.6 744.4H1364M1359.3 739.7V749.1M1358.9 744.4H1368.3M1363.6 739.7V749.1M1361.5 744.4H1370.9M1366.2 739.7V749.1M1364 744.4H1373.4M1368.7 739.7V749.1M1366.6 744.4H1376M1371.3 739.7V749.1M1370.5 744.4H1379.9M1375.2 739.7V749.1M1374.3 744.4H1383.7M1379 739.7V749.1M1376.9 744.4H1386.3M1381.6 739.7V749.1M1380.7 744.4H1390.1M1385.4 739.7V749.1M1383.8 744.4H1393.2M1388.5 739.7V749.1M1387.1 744.4H1396.5M1391.8 739.7V749.1M1392.2 744.4H1401.6M1396.9 739.7V749.1M1394.8 744.4H1404.2M1399.5 739.7V749.1M1397.4 744.4H1406.8M1402.1 739.7V749.1M1412.8 744.4H1422.2M1417.5 739.7V749.1M1419.2 744.4H1428.6M1423.9 739.7V749.1M1425.6 744.4H1435M1430.3 739.7V749.1M1432 744.4H1441.4M1436.7 739.7V749.1M1438.4 744.4H1447.8M1443.1 739.7V749.1M1456.4 750.8H1465.8M1461.1 746.1V755.5M1462.8 750.8H1472.2M1467.5 746.1V755.5M1473 750.8H1482.4M1477.7 746.1V755.5M1479.4 750.8H1488.8M1484.1 746.1V755.5M1482 750.8H1491.4M1486.7 746.1V755.5M1484.6 750.8H1494M1489.3 746.1V755.5M1488.4 750.8H1497.8M1493.1 746.1V755.5M1491 750.8H1500.4M1495.7 746.1V755.5M1493.5 750.8H1502.9M1498.2 746.1V755.5M1496.1 750.8H1505.5M1500.8 746.1V755.5M1499.9 750.8H1509.3M1504.6 746.1V755.5M1506.4 750.8H1515.8M1511.1 746.1V755.5M1515.3 750.8H1524.7M1520 746.1V755.5M1523 750.8H1532.4M1527.7 746.1V755.5M1525.6 750.8H1535M1530.3 746.1V755.5M1530.7 750.8H1540.1M1535.4 746.1V755.5M1546.9 750.8H1556.3M1551.6 746.1V755.5M1569.2 750.8H1578.6M1573.9 746.1V755.5M1573 750.8H1582.4M1577.7 746.1V755.5M1582 750.8H1591.4M1586.7 746.1V755.5M1584.6 750.8H1594M1589.3 746.1V755.5M1588.4 750.8H1597.8M1593.1 746.1V755.5M1592.2 750.8H1601.6M1596.9 746.1V755.5M1597.4 750.8H1606.8M1602.1 746.1V755.5M1599.9 750.8H1609.3M1604.6 746.1V755.5M1602.5 750.8H1611.9M1607.2 746.1V755.5M1606.4 750.8H1615.8M1611.1 746.1V755.5M1614 750.8H1623.4M1618.7 746.1V755.5M1619.2 750.8H1628.6M1623.9 746.1V755.5M1623 750.8H1632.4M1627.7 746.1V755.5M1626.9 750.8H1636.3M1631.6 746.1V755.5M1635.8 750.8H1645.2M1640.5 746.1V755.5M1642.2 750.8H1651.6M1646.9 746.1V755.5M1655.1 750.8H1664.5M1659.8 746.1V755.5M1660.2 750.8H1669.6M1664.9 746.1V755.5M1666.6 750.8H1676M1671.3 746.1V755.5" stroke="#ff0000" stroke-width="2" fill="none"/>
<path d="M1022.3 652.1 L1027.4 657.9 L1032.6 661 L1042.8 664.1 L1053.1 666.2 L1063.3 669.2 L1073.6 675.1 L1078.7 679 L1080 694.4 L1085.1 699.5 L1090.3 704.6 L1092.8 712.3 L1095.4 722.6 L1104.4 726.4 L1119.7 731.5 L1132.6 735.4 L1137.7 739.2 L1200.5 739.2 L1201.8 745.6 L1206.9 748.2 L1212.1 755.9 L1232.6 755.9 L1245.4 759.7 L1258.2 761 L1260.8 765.6 L1299.2 765.6 L1312.1 768.7 L1330 769.2 L1340.3 773.3 L1350.5 773.3 L1489.3 773.3 L1493.1 780.3 L1673.9 780.3" stroke="#0000ff" stroke-width="2.7" fill="none" stroke-dasharray="3.8 4.2" stroke-linejoin="round"/>
<path d="M1037.4 664.9H1046.8M1042.1 660.2V669.6M1068.1 675.1H1077.5M1072.8 670.4V679.8M1117.6 732.3H1127M1122.3 727.6V737M1129.1 736.7H1138.5M1133.8 732V741.4M1133 740H1142.4M1137.7 735.3V744.7M1143.2 740H1152.6M1147.9 735.3V744.7M1149.7 740H1159.1M1154.4 735.3V744.7M1160.7 740H1170.1M1165.4 735.3V744.7M1197.1 744.4H1206.5M1201.8 739.7V749.1M1198.9 747.4H1208.3M1203.6 742.7V752.1M1212.5 756.4H1221.9M1217.2 751.7V761.1M1217.6 756.4H1227M1222.3 751.7V761.1M1220.2 756.4H1229.6M1224.9 751.7V761.1M1235 755.9H1244.4M1239.7 751.2V760.6M1244 759.7H1253.4M1248.7 755V764.4M1250.9 759.7H1260.3M1255.6 755V764.4M1253.5 765.6H1262.9M1258.2 760.9V770.3M1254.8 766.2H1264.2M1259.5 761.5V770.9M1266.3 765.6H1275.7M1271 760.9V770.3M1268.9 765.6H1278.3M1273.6 760.9V770.3M1284.3 764.9H1293.7M1289 760.2V769.6M1309.1 768.7H1318.5M1313.8 764V773.4M1322.7 768.7H1332.1M1327.4 764V773.4M1344.5 773.8H1353.9M1349.2 769.1V778.5M1348.4 773.8H1357.8M1353.1 769.1V778.5M1344.8 773.8H1354.2M1349.5 769.1V778.5M1348.7 773.8H1358.1M1353.4 769.1V778.5M1381.2 773.8H1390.6M1385.9 769.1V778.5M1383.8 773.8H1393.2M1388.5 769.1V778.5M1387.1 773.8H1396.5M1391.8 769.1V778.5M1398.7 773.8H1408.1M1403.4 769.1V778.5M1410.2 773.8H1419.6M1414.9 769.1V778.5M1415.3 773.8H1424.7M1420 769.1V778.5M1426.9 773.8H1436.3M1431.6 769.1V778.5M1434.6 773.8H1444M1439.3 769.1V778.5M1439.7 773.8H1449.1M1444.4 769.1V778.5M1442.2 773.8H1451.6M1446.9 769.1V778.5M1444.8 773.8H1454.2M1449.5 769.1V778.5M1455.1 773.8H1464.5M1459.8 769.1V778.5M1458.9 773.8H1468.3M1463.6 769.1V778.5M1461.5 773.8H1470.9M1466.2 769.1V778.5M1464 773.8H1473.4M1468.7 769.1V778.5M1473 773.8H1482.4M1477.7 769.1V778.5M1480.7 773.8H1490.1M1485.4 769.1V778.5M1484.6 773.8H1494M1489.3 769.1V778.5M1489.7 780.3H1499.1M1494.4 775.6V785M1494.8 780.3H1504.2M1499.5 775.6V785M1501.2 780.3H1510.6M1505.9 775.6V785M1505.1 780.3H1514.5M1509.8 775.6V785M1515.3 780.3H1524.7M1520 775.6V785M1523 780.3H1532.4M1527.7 775.6V785M1526.9 780.3H1536.3M1531.6 775.6V785M1529.4 780.3H1538.8M1534.1 775.6V785M1533.3 780.3H1542.7M1538 775.6V785M1537.1 780.3H1546.5M1541.8 775.6V785M1542.2 780.3H1551.6M1546.9 775.6V785M1547.4 780.3H1556.8M1552.1 775.6V785M1556.4 780.3H1565.8M1561.1 775.6V785M1562.8 780.3H1572.2M1567.5 775.6V785M1571.7 780.3H1581.1M1576.4 775.6V785M1574.3 780.3H1583.7M1579 775.6V785M1592.2 780.3H1601.6M1596.9 775.6V785M1596.1 780.3H1605.5M1600.8 775.6V785M1601.2 780.3H1610.6M1605.9 775.6V785M1605.1 780.3H1614.5M1609.8 775.6V785M1607.6 780.3H1617M1612.3 775.6V785M1612.8 780.3H1622.2M1617.5 775.6V785M1616.6 780.3H1626M1621.3 775.6V785M1621.7 780.3H1631.1M1626.4 775.6V785M1633.3 780.3H1642.7M1638 775.6V785M1639.7 780.3H1649.1M1644.4 775.6V785M1648.7 780.3H1658.1M1653.4 775.6V785M1651.2 780.3H1660.6M1655.9 775.6V785M1653.8 780.3H1663.2M1658.5 775.6V785M1666.6 780.3H1676M1671.3 775.6V785" stroke="#0000ff" stroke-width="2" fill="none"/>
<text x="1022.1" y="953.9" font-family="'Liberation Sans', Arial, sans-serif" font-size="21.318" fill="#000" text-anchor="start" stroke="#000" stroke-width="0.4" stroke-linejoin="round" >No. at risk</text>
<text x="1014.6" y="984.4" font-family="'Liberation Sans', Arial, sans-serif" font-size="13.585" fill="#ff1530" text-anchor="end" stroke="#ff1530" stroke-width="0.25" stroke-linejoin="round" word-spacing="3">High IPV</text>
<text x="1014.6" y="1006.7" font-family="'Liberation Sans', Arial, sans-serif" font-size="13.585" fill="#2020ff" text-anchor="end" stroke="#2020ff" stroke-width="0.25" stroke-linejoin="round" word-spacing="3">Low IPV</text>
<text x="1056" y="987.1" font-family="'Liberation Sans', Arial, sans-serif" font-size="18.81" fill="#000" text-anchor="middle" stroke="#000" stroke-width="0.55" stroke-linejoin="round" >200</text>
<text x="1283.5" y="987.1" font-family="'Liberation Sans', Arial, sans-serif" font-size="18.81" fill="#000" text-anchor="middle" stroke="#000" stroke-width="0.55" stroke-linejoin="round" >156</text>
<text x="1508.5" y="987.1" font-family="'Liberation Sans', Arial, sans-serif" font-size="18.81" fill="#000" text-anchor="middle" stroke="#000" stroke-width="0.55" stroke-linejoin="round" >86</text>
<text x="1735" y="987.1" font-family="'Liberation Sans', Arial, sans-serif" font-size="18.81" fill="#000" text-anchor="middle" stroke="#000" stroke-width="0.55" stroke-linejoin="round" >0</text>
<text x="1056" y="1009.7" font-family="'Liberation Sans', Arial, sans-serif" font-size="18.81" fill="#000" text-anchor="middle" stroke="#000" stroke-width="0.55" stroke-linejoin="round" >189</text>
<text x="1283.5" y="1009.7" font-family="'Liberation Sans', Arial, sans-serif" font-size="18.81" fill="#000" text-anchor="middle" stroke="#000" stroke-width="0.55" stroke-linejoin="round" >141</text>
<text x="1508.5" y="1009.7" font-family="'Liberation Sans', Arial, sans-serif" font-size="18.81" fill="#000" text-anchor="middle" stroke="#000" stroke-width="0.55" stroke-linejoin="round" >94</text>
<text x="1735" y="1009.7" font-family="'Liberation Sans', Arial, sans-serif" font-size="18.81" fill="#000" text-anchor="middle" stroke="#000" stroke-width="0.55" stroke-linejoin="round" >0</text>
</g>
</svg>
</body></html>
